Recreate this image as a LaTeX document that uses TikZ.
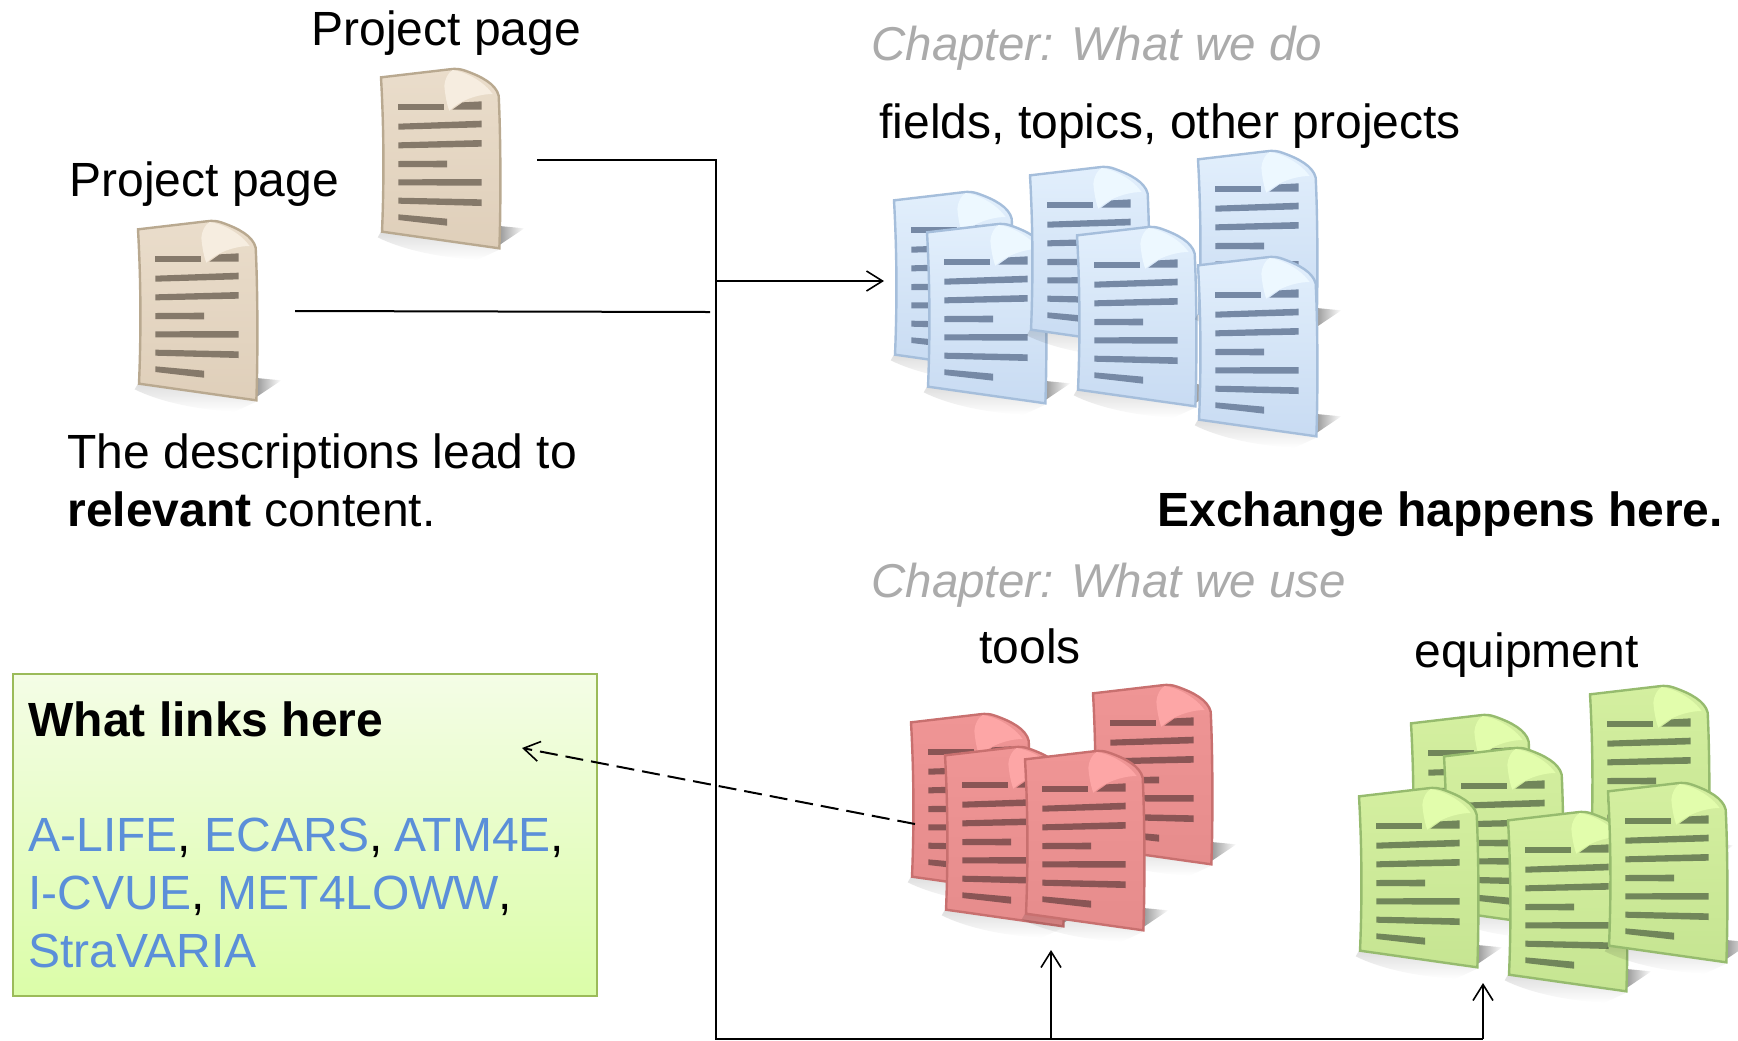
\documentclass[tikz,border=0pt]{standalone}
\usepackage{fontspec}
\setmainfont{Liberation Sans}
\usetikzlibrary{arrows.meta,fadings}
\definecolor{tantop}{HTML}{EADDCB}\definecolor{tanbot}{HTML}{DFCFBA}\definecolor{tanedge}{HTML}{B9A990}\definecolor{tanbar}{HTML}{85796A}\definecolor{tanfold}{HTML}{F6EDE0}
\definecolor{bluetop}{HTML}{E2EFFC}\definecolor{bluebot}{HTML}{C8DBF2}\definecolor{blueedge}{HTML}{A5BEDB}\definecolor{bluebar}{HTML}{7689A5}\definecolor{bluefold}{HTML}{EDF8FF}
\definecolor{redtop}{HTML}{EF9595}\definecolor{redbot}{HTML}{E68C8C}\definecolor{rededge}{HTML}{C8706F}\definecolor{redbar}{HTML}{8A5555}\definecolor{redfold}{HTML}{FDA6A6}
\definecolor{greentop}{HTML}{D4EFA0}\definecolor{greenbot}{HTML}{C6E592}\definecolor{greenedge}{HTML}{96BB6E}\definecolor{greenbar}{HTML}{71865A}\definecolor{greenfold}{HTML}{E2FDAC}
\definecolor{chapgray}{HTML}{ABABAB}\definecolor{linkblue}{HTML}{5B8FD9}
\definecolor{boxedge}{HTML}{9BBB59}\definecolor{boxtop}{HTML}{F4FDE6}\definecolor{boxbot}{HTML}{DBFDA8}
\tikzset{
  x=0.5pt,y=-0.5pt,
  label text/.style={anchor=base west,inner sep=0pt,font=\fontsize{24}{29}\selectfont},
  chapter text/.style={label text,text=chapgray,font=\fontsize{23.75}{29}\selectfont\itshape},
  link/.style={line width=1pt,draw=black},
  barb/.style={-{Straight Barb[length=8pt,width=10pt,line width=0.8pt]}},
}
\newcommand{\docicon}[3]{%
\begin{scope}[shift={(#1,#2)},x=0.16667pt,y=-0.16667pt]
  \fill[black,opacity=.45,path fading=east] (345,535) -- (430,478) -- (345,470) -- cycle;
  \fill[black,opacity=.13,path fading=south] (0,488) -- (355,542) -- (290,572) .. controls (170,566) and (60,540) .. (-10,505) -- cycle;
  \path[draw=#3edge,line width=1.2pt,top color=#3top,bottom color=#3bot]
    (0,25) -- (205,1) .. controls (225,-2) and (240,0) .. (255,6)
    .. controls (300,22) and (345,45) .. (353,80)
    .. controls (359,200) and (360,400) .. (355,538)
    -- (3,488) .. controls (10,320) and (8,170) .. (0,25) -- cycle;
  \fill[#3bar] (52,104) -- (190,104) -- (190,123) -- (52,123) -- cycle;
  \fill[#3bar] (214,122) -- (245,100) -- (302,97) -- (302,122) -- cycle;
  \foreach \xe/\ya/\yb in {302/173/165,302/229/223,198/285/285,302/340/340,302/395/401}
    \fill[#3bar] (52,\ya-9) -- (\xe,\yb-10) -- (\xe,\yb+10) -- (52,\ya+9) -- cycle;
  \fill[#3bar] (52,436) -- (198,449) -- (198,470) -- (52,453) -- cycle;
  \fill[#3fold] (190,50) .. controls (192,75) and (197,105) .. (205,125)
    .. controls (235,95) and (290,75) .. (335,75)
    .. controls (310,40) and (260,10) .. (215,3)
    .. controls (200,12) and (192,30) .. (190,50) -- cycle;
\end{scope}}
\begin{document}
\begin{tikzpicture}
\useasboundingbox (0,0) rectangle (1738,1040);
\fill[white] (0,0) rectangle (1738,1040);

\docicon{381}{69}{tan}
\docicon{138}{221}{tan}
\docicon{894}{192}{blue}
\docicon{927}{224}{blue}
\docicon{1030}{167}{blue}
\docicon{1077}{227}{blue}
\docicon{1198}{151}{blue}
\docicon{1198}{257}{blue}
\docicon{911}{714}{red}
\docicon{1093}{685}{red}
\docicon{945}{747}{red}
\docicon{1025}{751}{red}
\docicon{1411}{715}{green}
\docicon{1444}{748}{green}
\docicon{1590}{686}{green}
\docicon{1359}{788}{green}
\docicon{1508}{812}{green}
\docicon{1608}{783}{green}

\node[label text] (pagea) at (311,45) {Project page};
\node[label text] (pageb) at (69,196) {Project page};
\node[label text] (descone) at (67,468) {The descriptions lead to};
\node[label text] (desctwo) at (67,526) {\textbf{relevant} content.};
\node[chapter text] (chapdo) at (871,60) {Chapter: What we do};
\node[label text] (fields) at (879,138) {fields, topics, other projects};
\node[label text,font=\fontsize{24}{29}\selectfont\bfseries] (exchange) at (1157,526) {Exchange happens here.};
\node[chapter text] (chapuse) at (871,597) {Chapter: What we use};
\node[label text] (tools) at (979,663) {tools};
\node[label text] (equip) at (1414,667) {equipment};

\path[draw=boxedge,line width=1pt,top color=boxtop,bottom color=boxbot] (13,674) rectangle (597,996);
\node[label text,font=\fontsize{24}{29}\selectfont\bfseries] (what) at (28,736) {What links here};
\node[label text] (linksa) at (28,851) {\textcolor{linkblue}{A-LIFE}, \textcolor{linkblue}{ECARS}, \kern-1pt\textcolor{linkblue}{ATM4E},};
\node[label text] (linksb) at (28,909) {\textcolor{linkblue}{I-CVUE}, \textcolor{linkblue}{MET4LOW\kern-1ptW},};
\node[label text] (linksc) at (28,967) {\textcolor{linkblue}{StraVARIA}};

\coordinate (fromtop) at (537,160);
\coordinate (corner) at (716,160);
\coordinate (fromlow) at (295,311);
\coordinate (lowend) at (710,312);
\coordinate (branch) at (716,281);
\coordinate (bluein) at (884,281);
\coordinate (bottomleft) at (716,1039);
\coordinate (bottomright) at (1483,1039);
\coordinate (greenin) at (1483,983);
\coordinate (toolsjoin) at (1051,1039);
\coordinate (redin) at (1051,950);
\coordinate (redout) at (915,824);
\coordinate (boxin) at (522,748);

\draw[link] (fromtop) -- (corner) -- (bottomleft) -- (bottomright);
\draw[link,barb] (bottomright) -- (greenin);
\draw[link,barb] (toolsjoin) -- (redin);
\draw[link] (fromlow) -- (lowend);
\draw[link,barb] (branch) -- (bluein);
\draw[link,barb,dash pattern=on 9pt off 4pt] (redout) -- (boxin);
\end{tikzpicture}
\end{document}
